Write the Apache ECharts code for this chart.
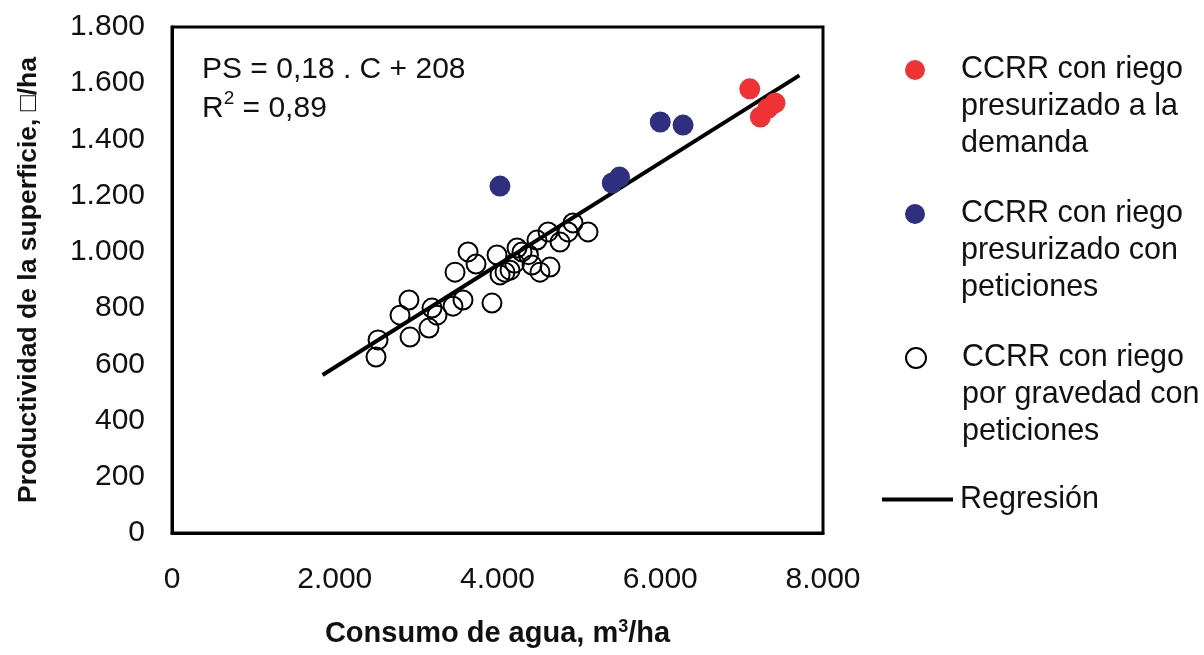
<!DOCTYPE html>
<html>
<head>
<meta charset="utf-8">
<script src="https://cdn.jsdelivr.net/npm/echarts@6/dist/echarts.min.js"></script>
<style>
html,body{margin:0;padding:0;background:#fff;}
#chart{width:1204px;height:655px;}
</style>
</head>
<body>
<div id="chart"></div>
<script>
// ---- Data ----
const nameDemanda = 'CCRR con riego\npresurizado a la\ndemanda';
const namePeticiones = 'CCRR con riego\npresurizado con\npeticiones';
const nameGravedad = 'CCRR con riego\npor gravedad con\npeticiones';
const nameRegresion = 'Regresión';

const demandaX = [7100, 7410, 7230, 7320];
const demandaY = [1580, 1530, 1480, 1510];

const peticionesX = [4030, 5410, 5500, 6000, 6280];
const peticionesY = [1234, 1245, 1266, 1462, 1451];

const gravedadX = [2507, 2532, 2802, 2912, 2925, 3158, 3257, 3195, 3478, 3638,
                   3576, 3453, 3736, 3932, 3994, 4031, 4154, 4301, 4240, 4485,
                   4424, 4645, 4621, 4768, 4866, 4928, 5112, 4522, 4092, 4380, 4210];
const gravedadY = [626, 687, 775, 829, 697, 729, 775, 800, 928, 1000,
                   829, 807, 957, 818, 989, 918, 935, 1000, 1014, 1042,
                   953, 946, 1071, 1035, 1071, 1103, 1071, 928, 928, 990, 960];

const regresionX = [1850, 7710];
const regresionY = [562, 1628];

const xTicks = {min: 0, max: 8000, step: 2000};
const yTicks = {min: 0, max: 1800, step: 200};

const equationLine1 = 'PS = 0,18 . C + 208';
const equationLine2 = 'R{sup|2} = 0,89';
const xAxisName = 'Consumo de agua, m{sup|3}/ha';
const yAxisName = 'Productividad de la superficie, □/ha';

// ---- Build ----
const zip = (xs, ys) => xs.map((x, i) => [x, ys[i]]);
const fmt = v => String(v).replace(/\B(?=(\d{3})+(?!\d))/g, '.');
const FONT = '"Liberation Sans", Arial, sans-serif';

const chart = echarts.init(document.getElementById('chart'), null, {renderer: 'canvas'});

function legendFor(name, iconY) {
  return {
    data: [name],
    orient: 'vertical',
    left: 905,
    top: iconY - 92.5,
    padding: 0,
    itemWidth: 20,
    itemHeight: 20,
    selectedMode: false,
    formatter: n => ' \n \n' + n,
    textStyle: {
      fontFamily: FONT, fontSize: 30.5, color: '#111', lineHeight: 37,
      padding: [0, 0, 0, 31]
    }
  };
}

const option = {
  animation: false,
  backgroundColor: '#fff',
  title: {
    text: equationLine1 + '\n' + equationLine2,
    left: 202, top: 50,
    padding: [0, 0, 0, 0],
    textStyle: {
      fontFamily: FONT, fontSize: 30, fontWeight: 'normal', color: '#111', lineHeight: 39,
      rich: { sup: { fontFamily: FONT, fontSize: 19, verticalAlign: 'top', color: '#111', lineHeight: 39, padding: [0,0,14,0] } }
    }
  },
  legend: [
    legendFor(nameDemanda, 70),
    legendFor(namePeticiones, 214),
    legendFor(nameGravedad, 358),
    {
      data: [{name: nameRegresion, icon: 'rect'}],
      left: 882, top: 481, padding: 0,
      itemWidth: 71, itemHeight: 4, itemGap: 0,
      selectedMode: false,
      itemStyle: {color: '#000'},
      textStyle: {fontFamily: FONT, fontSize: 30.5, color: '#111', lineHeight: 37, padding: [0,0,0,2]}
    }
  ],
  grid: {
    left: 172, right: 381, top: 27, bottom: 122,
    show: true, borderColor: '#000', borderWidth: 3, backgroundColor: 'transparent'
  },
  xAxis: {
    type: 'value',
    min: xTicks.min, max: xTicks.max, interval: xTicks.step,
    name: xAxisName,
    nameLocation: 'middle', nameGap: 85,
    nameTextStyle: {
      fontFamily: FONT, fontSize: 29, fontWeight: 'bold', color: '#111',
      rich: { sup: { fontFamily: FONT, fontSize: 18, fontWeight: 'bold', verticalAlign: 'top', padding: [0,0,14,0], color: '#111' } }
    },
    axisLine: {show: true, lineStyle: {color: '#000', width: 3}},
    axisTick: {show: false},
    splitLine: {show: false},
    axisLabel: {fontFamily: FONT, fontSize: 30, color: '#111', margin: 32, formatter: fmt}
  },
  yAxis: {
    type: 'value',
    min: yTicks.min, max: yTicks.max, interval: yTicks.step,
    name: yAxisName,
    nameLocation: 'middle', nameGap: 130, nameRotate: 90,
    nameTextStyle: {fontFamily: FONT, fontSize: 26.5, fontWeight: 'bold', color: '#111'},
    axisLine: {show: true, lineStyle: {color: '#000', width: 3}},
    axisTick: {show: false},
    splitLine: {show: false},
    axisLabel: {fontFamily: FONT, fontSize: 30, color: '#111', margin: 27, formatter: fmt}
  },
  series: [
    {
      name: nameRegresion, type: 'line',
      data: zip(regresionX, regresionY),
      symbol: 'none',
      lineStyle: {color: '#000', width: 4},
      itemStyle: {color: '#000'},
      z: 1
    },
    {
      name: nameDemanda, type: 'scatter',
      data: zip(demandaX, demandaY),
      symbol: 'circle', symbolSize: 21,
      itemStyle: {color: '#ee3236', opacity: 1},
      z: 3
    },
    {
      name: namePeticiones, type: 'scatter',
      data: zip(peticionesX, peticionesY),
      symbol: 'circle', symbolSize: 21,
      itemStyle: {color: '#2e2f7f', opacity: 1},
      z: 3
    },
    {
      name: nameGravedad, type: 'scatter',
      data: zip(gravedadX, gravedadY),
      symbol: 'circle', symbolSize: 19,
      itemStyle: {color: 'rgba(255,255,255,0)', borderColor: '#000', borderWidth: 2, opacity: 1},
      z: 2
    }
  ]
};
chart.setOption(option);
</script>
</body>
</html>
